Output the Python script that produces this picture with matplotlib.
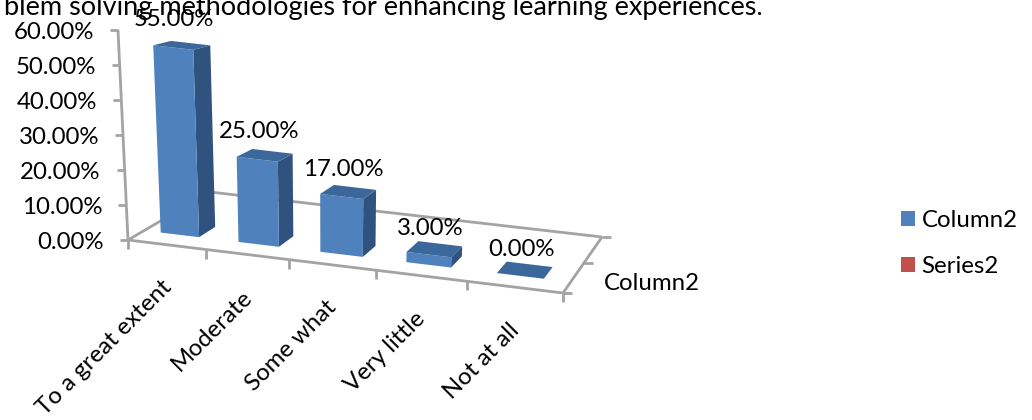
import numpy as np
import matplotlib
matplotlib.use("Agg")
import matplotlib.pyplot as plt
from matplotlib.patches import Polygon, Patch

plt.rcParams['font.family'] = ['Lato', 'DejaVu Sans']

categories = ["To a great extent", "Moderate", "Some what", "Very little", "Not at all"]
values = [55, 25, 17, 3, 0]
value_labels = ["55.00%", "25.00%", "17.00%", "3.00%", "0.00%"]
y_ticks = [0, 10, 20, 30, 40, 50, 60]
y_labels = ["0.00%", "10.00%", "20.00%", "30.00%", "40.00%", "50.00%", "60.00%"]
series_names = ["Column2", "Series2"]
depth_label = "Column2"
title = "blem solving methodologies for enhancing learning experiences."

BLUE, SIDE, TOP, RED, GREY = "#4F81BD", "#30527F", "#3B679B", "#C0504D", "#A3A3A3"
FS = 17.3

fig = plt.figure(figsize=(10.32, 4.2), dpi=100)
ax = fig.add_axes([0, 0, 1, 1])
ax.set_xlim(0, 1032)
ax.set_ylim(420, 0)
ax.axis("off")

# Floor perspective: (u along categories 0..5, d depth 0..1) -> canvas
src = np.array([[0, 0], [5, 0], [5, 1], [0, 1]], float)
dst = np.array([[128, 240], [563, 293], [602, 237], [210, 192]], float)
A = []
b = []
for (u, v), (x, y) in zip(src, dst):
    A.append([u, v, 1, 0, 0, 0, -u * x, -v * x]); b.append(x)
    A.append([0, 0, 0, u, v, 1, -u * y, -v * y]); b.append(y)
H = np.append(np.linalg.solve(np.array(A), np.array(b)), 1).reshape(3, 3)


def proj(u, d, val=0.0):
    w = u - 0.015 * u * (5 - u)
    p = H @ np.array([w, d, 1.0])
    x, y = p[0] / p[2], p[1] / p[2]
    h = val * 3.5 * (1 - 0.15 * d)
    return (x + (x - 330) * 0.000236 * h, y - h)


def line(a, b_):
    ax.plot([a[0], b_[0]], [a[1], b_[1]], color=GREY, lw=2.0, solid_capstyle="butt", zorder=1)


# Axes and ticks
line(proj(0, 0), proj(0, 0, y_ticks[-1]))
line(proj(0, 0), proj(5, 0))
line(proj(0, 0), proj(0, 1))
line(proj(0, 1), proj(5, 1))
line(proj(5, 0), proj(5, 1))
for t, lab in zip(y_ticks, y_labels):
    x, y = proj(0, 0, t)
    line((x - 8, y), (x, y))
    ax.text(x - 24, y + 2.5, lab, ha="right", va="center", fontsize=FS, color="black", zorder=5)
for i in range(len(categories) + 1):
    x, y = proj(i, 0)
    line((x, y), (x, y + 9))
for d in (0, 0.5, 1):
    x, y = proj(5, d)
    line((x, y), (x + 9, y))
ax.text(604, 284, depth_label, ha="left", va="center", fontsize=FS, color="black")

# Bars
for i, v in enumerate(values):
    u0, u1, d0, d1 = i + 0.22, i + 0.72, 0.18, 0.38
    fl, fr = (u0, d0), (u1, d0)
    bl, br = (u0, d1), (u1, d1)
    if v > 0:
        ax.add_patch(Polygon([proj(*fr), proj(*br), proj(*br, v), proj(*fr, v)], fc=SIDE, ec="none", zorder=2))
        ax.add_patch(Polygon([proj(*fl), proj(*fr), proj(*fr, v), proj(*fl, v)], fc=BLUE, ec="none", zorder=3))
    ax.add_patch(Polygon([proj(*fl, v), proj(*fr, v), proj(*br, v), proj(*bl, v)], fc=TOP, ec="none", zorder=3))
    cx, cy = proj(i + 0.44, 0.28, v)
    ax.text(cx - 1 - 0.08 * v, cy - 20.5 - 0.1 * v, value_labels[i], ha="center", va="center", fontsize=FS,
            color="black", zorder=6)
    tx, ty = proj(i + 0.5, 0)
    ax.text(tx - 6, ty + 32, categories[i], rotation=45, rotation_mode="anchor",
            ha="right", va="top", fontsize=FS, color="black", zorder=5)

# Title cut by the top edge
ax.text(763, 15, title, ha="right", va="baseline", fontsize=19.5, color="black", zorder=4)

# Legend
leg = ax.legend(handles=[Patch(fc=BLUE, label=series_names[0]), Patch(fc=RED, label=series_names[1])],
                loc="upper left", bbox_to_anchor=(901 / 1032, 1 - 210 / 420), frameon=False,
                fontsize=FS, handlelength=0.6, handleheight=0.6, handletextpad=0.25,
                labelspacing=1.05, borderpad=0.0, borderaxespad=0)

fig.savefig("out.png", dpi=100)
